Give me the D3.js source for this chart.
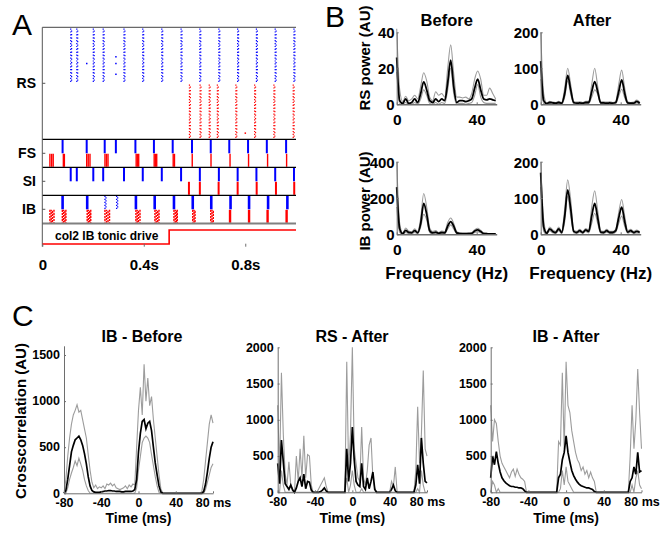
<!DOCTYPE html>
<html><head><meta charset="utf-8">
<script src="https://cdn.jsdelivr.net/npm/d3@7"></script>
<style>
body{margin:0;background:#fff}
svg{display:block}
text{font-family:"Liberation Sans",Arial,Helvetica,sans-serif;font-weight:bold;fill:#000}
</style>
</head><body>
<svg id="c" width="661" height="533"></svg>
<script>
// ================= DATA =================
// ---- Panel A: raster (spike times in s) ----
const rasterRows = ["RS", "FS", "SI", "IB"];
const timeTicks = [0, 0.4, 0.8];
const timeTickLabels = ["0", "0.4s", "0.8s"];
const rsBlueTimes = [0.112,0.136,0.201,0.240,0.322,0.396,0.471,0.547,0.621,0.696,0.770,0.844,0.918,0.992];
const rsBlueDots = [[0.175,13],[0.290,10.5],[0.290,13],[0.290,17]];
const rsRedTimes = [0.580,0.622,0.658,0.690,0.763,0.837,0.913,0.989];
const rsRedDots = [[0.800,18]];
const fsBlueTimes = [0.080,0.175,0.246,0.290,0.367,0.440,0.514,0.590,0.664,0.737,0.811,0.885,0.961];
const fsRedTimes = [0.030,0.037,0.043,0.083,0.087,0.175,0.181,0.188,0.247,0.253,0.259,0.370,0.375,0.380,0.441,0.446,0.451,0.516,0.521,0.591,0.665,0.740,0.813,0.888,0.963];
const siBlueTimes = [0.112,0.136,0.201,0.240,0.322,0.396,0.471,0.547,0.621,0.696,0.770,0.844,0.918,0.992];
const siRedTimes = [0.578,0.621,0.695,0.770,0.845,0.921,0.993];
const ibBlueTimes = [0.080,0.177,0.369,0.443,0.519,0.593,0.666,0.742,0.815,0.890,0.966];
const ibBlueSparse = [0.247,0.293];
const ibRedBursts = [
  [0.030,0.035,0.040,0.046],[0.079,0.084,0.089,0.093],[0.177,0.182,0.187,0.191],
  [0.247,0.253,0.259,0.265],[0.369,0.374,0.379,0.385],[0.444,0.449,0.455,0.460],
  [0.519,0.524,0.529,0.532],[0.593,0.598,0.602],[0.664,0.669,0.674]];
const ibRedTimes = [0.740,0.815,0.888,0.963];
const driveTimes = [0, 0.5, 1];
const driveLevels = [0, 1, 1];
const driveLabel = "col2 IB tonic drive";

// ---- Panel B: power spectra ----
const freqs = [0,1.5,3,4.5,6,7.5,9,10.5,12,13.5,15,16.5,18,19.5,21,22.5,24,25.5,27,28.5,30,31.5,33,34.5,36,37.5,39,40.5,42,43.5,45,46.5,48,49.5];
const rsBeforeMean = [26,2,0.5,3,0.5,1,3,1,6,12.5,8,2,1,3,1.5,3,2,12,24.5,10,1,2,2,1.5,2,3,9,14,8,3,2.5,3,2.5,2];
const rsBeforeUp   = [42,8,1.5,4.5,2,3,5,3,10,17.5,13,4,2,7,5,6,4,20,33,17,4,4,3.5,4,3,6,14,18.5,14,5,5,9,6,3];
const rsBeforeLo   = [18,0,0,1,0,0,1,0,3,8,5,0.5,0,1,0,1,0.5,8,20,6,0,0.5,0.5,0,0.5,1,5,11,4,1,0.5,0.5,0.5,0.5];
const rsAfterMean  = [120,10,2,5,4,3,5,3,30,80,40,5,3,4,3,5,5,35,63,35,4,4,3,4,3,5,35,68,30,4,3,3,8,3];
const rsAfterUp    = [200,30,4,8,6,5,8,5,45,100,55,8,6,7,5,8,8,55,100,50,7,7,6,7,5,8,55,95,45,7,5,6,12,6];
const rsAfterLo    = [70,2,0,2,1,1,2,1,20,65,28,2,1,2,1,2,2,20,40,28,2,2,1,2,1,2,22,42,18,2,1,1,4,1];
const ibBeforeMean = [260,30,3,22,10,8,20,8,60,170,110,20,8,12,5,10,8,45,70,45,8,4,3,3,4,5,18,24,15,4,3,2,2,2];
const ibBeforeUp   = [400,60,8,35,18,15,30,15,90,225,150,35,15,20,10,18,15,65,90,60,15,8,6,6,8,10,25,33,22,8,5,4,4,3];
const ibBeforeLo   = [150,10,0,10,4,3,10,3,40,110,80,10,3,5,2,4,3,30,52,30,3,1,1,1,1,2,10,15,8,1,1,1,1,1];
const ibAfterMean  = [170,20,3,15,8,5,15,5,50,122,70,8,5,10,5,12,8,50,85,45,6,5,10,5,5,10,45,75,35,6,10,5,8,5];
const ibAfterUp    = [200,40,6,20,12,8,20,8,70,150,95,12,8,14,8,16,12,75,120,65,10,8,14,8,8,14,60,96,50,10,14,8,12,7];
const ibAfterLo    = [130,8,0,10,4,2,10,2,35,105,50,4,2,6,2,8,4,30,58,30,3,2,6,2,2,6,30,50,22,3,6,2,4,3];
const freqTicks = [0, 40];

// ---- Panel C: crosscorrelations (lag in ms) ----
const lags = [-80,-78,-76,-74,-72,-70,-68,-66,-64,-62,-60,-58,-56,-54,-52,-50,-48,-46,-44,-42,-40,-38,-36,-34,-32,-30,-28,-26,-24,-22,-20,-18,-16,-14,-12,-10,-8,-6,-4,-2,0,2,4,6,8,10,12,14,16,18,20,22,24,26,28,30,32,34,36,38,40,42,44,46,48,50,52,54,56,58,60,62,64,66,68,70,72,74,76,78,80];
const lagTicks = [-80, -40, 0, 40, 80];
const lagTickLabels = ["-80", "-40", "0", "40", "80 ms"];
const ibBeforeXcMean = [0,30,150,300,450,520,580,600,620,580,520,430,320,180,80,30,15,10,10,10,15,20,25,25,30,30,25,25,20,20,20,15,15,20,20,20,20,25,40,150,450,650,780,800,700,760,780,680,500,330,200,80,15,0,0,0,0,0,0,0,0,0,0,0,0,0,0,0,0,0,0,0,0,0,0,20,100,230,380,500,560];
const ibBeforeXcUp = [0,150,400,600,750,850,900,960,880,900,800,700,600,420,250,120,60,90,50,70,60,80,50,100,90,110,80,100,60,50,40,50,60,80,50,90,70,100,90,500,900,1150,850,1400,1000,1250,950,1050,800,600,400,200,50,0,0,0,0,0,0,0,0,0,0,0,0,0,0,0,0,0,0,0,0,0,20,150,350,550,750,850,760];
const ibBeforeXcLo = [0,0,60,150,220,280,350,300,380,320,250,150,80,30,0,0,0,0,0,0,0,0,0,0,0,0,0,0,0,0,0,0,0,0,0,0,0,0,0,60,250,400,550,600,620,600,550,420,300,180,80,10,0,0,0,0,0,0,0,0,0,0,0,0,0,0,0,0,0,0,0,0,0,0,0,0,40,120,200,280,320];
const rsAfterXcMean = [400,120,720,420,120,80,40,100,30,0,60,150,200,80,250,50,150,140,30,0,0,0,0,10,30,60,20,0,0,0,0,0,0,0,0,0,0,600,150,400,900,450,150,100,80,400,80,40,200,50,150,280,40,0,0,0,0,0,0,0,0,40,100,20,0,0,0,0,0,0,0,0,0,0,100,380,120,750,400,150,130];
const rsAfterXcUp = [1200,300,1650,800,250,100,420,100,50,0,500,150,600,200,780,200,520,500,100,0,0,0,50,100,150,200,80,0,0,0,0,0,0,0,0,0,0,1800,300,800,2000,600,400,200,150,900,200,100,300,650,750,200,60,0,0,0,0,0,0,0,0,150,80,350,0,0,0,0,0,0,0,0,0,0,300,1180,400,800,1680,600,500];
const rsAfterXcLo = [0,0,300,100,0,0,0,0,0,0,0,0,0,0,0,0,0,0,0,0,0,0,0,0,0,0,0,0,0,0,0,0,0,0,0,0,0,200,0,100,300,100,0,0,0,50,0,0,0,0,0,0,0,0,0,0,0,0,0,0,0,0,0,0,0,0,0,0,0,0,0,0,0,0,0,50,0,300,100,0,0];
const ibAfterXcMean = [200,500,380,560,400,280,200,160,130,110,90,80,80,70,70,60,60,50,20,0,0,0,0,0,0,0,0,0,0,0,0,0,0,0,0,0,200,250,450,550,780,550,420,300,230,180,140,110,90,80,70,60,60,50,40,10,0,0,0,0,0,0,0,0,0,0,0,0,0,0,0,0,0,0,150,200,350,250,550,280,300];
const ibAfterXcUp = [1200,700,1000,950,700,500,400,350,300,250,200,280,320,220,320,250,200,180,150,0,0,0,0,0,0,0,0,0,0,0,0,0,0,0,0,0,700,650,1650,600,1800,1200,1100,850,700,550,450,400,300,350,250,300,200,280,200,150,0,0,0,0,0,0,0,0,0,0,0,0,0,0,0,0,0,0,500,1200,600,1000,1700,1100,600];
const ibAfterXcLo = [0,150,100,0,50,0,0,0,0,0,0,0,0,0,0,0,0,0,0,0,0,0,0,0,0,0,0,0,0,0,0,0,0,0,0,0,0,50,300,100,350,150,100,50,0,0,0,0,0,0,0,0,0,0,0,0,0,0,0,0,0,0,0,0,0,0,0,0,0,0,0,0,0,0,0,100,0,200,300,100,50];

// ================= DRAWING =================
const svg = d3.select("#c");
const FONT = '"Liberation Sans", Arial, Helvetica, sans-serif';
const AXC = "#6e6e6e", GRAY = "#9c9c9c";
const fmtInt = d3.format("d");

function styleAxis(g, fs) {
  g.attr("font-family", FONT).attr("font-size", fs).attr("font-weight", "bold");
  g.selectAll("path.domain").attr("stroke", AXC);
  g.selectAll(".tick line").attr("stroke", AXC);
  g.selectAll(".tick text").attr("fill", "#000").attr("font-weight", "bold");
}
function label(x, y, txt, fs, anchor, rot) {
  const t = svg.append("text").attr("font-size", fs).attr("font-weight", "bold")
    .attr("text-anchor", anchor || "middle").text(txt);
  if (rot) t.attr("transform", `translate(${x},${y}) rotate(${rot})`);
  else t.attr("x", x).attr("y", y);
  return t;
}

// ---------- Panel A ----------
const xA = d3.scaleLinear().domain([0, 1]).range([42.3, 296]);
const rowY = d3.scaleOrdinal().domain(rasterRows).range([83.3, 153.3, 181.3, 209.3]);
const yRSb = d3.scaleLinear().domain([0, 20]).range([28.5, 82.3]);
const yRSr = d3.scaleLinear().domain([0, 20]).range([84.5, 138.5]);
const yDrive = d3.scaleLinear().domain([0, 1]).range([244, 230]);
const gA = svg.append("g");

function columns(times, ys, color) {
  [[0, "1.2,1.7", 0], [0.9, "1.2,2.3", 1.5]].forEach(([dx, dash, off]) => {
    gA.append("g").selectAll("line").data(times).join("line")
      .attr("x1", d => xA(d) + dx).attr("x2", d => xA(d) + dx)
      .attr("y1", ys(0)).attr("y2", ys(20))
      .attr("stroke", color).attr("stroke-width", 1.2)
      .attr("stroke-dasharray", dash).attr("stroke-dashoffset", off);
  });
}
function dots(pts, ys, color) {
  gA.append("g").selectAll("rect").data(pts).join("rect")
    .attr("x", d => xA(d[0]) - 0.7).attr("y", d => ys(d[1]) - 0.7)
    .attr("width", 1.5).attr("height", 1.5).attr("fill", color);
}
columns(rsBlueTimes, yRSb, "#0000ff");
columns(rsRedTimes, yRSr, "#ff0000");
dots(rsBlueDots, yRSb, "#0000ff");
dots(rsRedDots, yRSr, "#ff0000");

function rowMarks(row, times, color, half, width, dash, offs) {
  const c = rowY(row);
  const y1 = half === 0 ? c - 13.5 : c + 0.5, y2 = half === 0 ? c : c + 13.5;
  gA.append("g").selectAll("line").data(times).join("line")
    .attr("x1", d => xA(d.t !== undefined ? d.t : d)).attr("x2", d => xA(d.t !== undefined ? d.t : d))
    .attr("y1", y1).attr("y2", y2)
    .attr("stroke", color).attr("stroke-width", width)
    .attr("stroke-dasharray", dash || null)
    .attr("stroke-dashoffset", d => (d.k !== undefined ? d.k * offs : 0));
}
rowMarks("FS", fsBlueTimes, "#0000ff", 0, 2);
rowMarks("FS", fsRedTimes, "#ff0000", 1, 1.4);
rowMarks("SI", siBlueTimes, "#0000ff", 0, 2);
rowMarks("SI", siRedTimes, "#ff0000", 1, 2);
rowMarks("IB", ibBlueTimes, "#0000ff", 0, 2.6);
rowMarks("IB", ibBlueSparse.flatMap(t => [{t: t, k: 0}, {t: t + 0.004, k: 1}]), "#0000ff", 0, 1.3, "1.3,1.7", 1.5);
rowMarks("IB", ibRedBursts.flatMap(b => b.map((t, k) => ({t: t, k: k}))), "#ff0000", 1, 1.4, "2.2,0.9", 1.1);
rowMarks("IB", ibRedTimes, "#ff0000", 1, 2.4);

// frame lines
gA.append("line").attr("x1", xA(0)).attr("x2", xA(1)).attr("y1", 27.3).attr("y2", 27.3).attr("stroke", "#444").attr("stroke-width", 1);
["FS", "SI", "IB"].forEach(r => {
  gA.append("line").attr("x1", xA(0)).attr("x2", xA(1)).attr("y1", rowY(r) - 14).attr("y2", rowY(r) - 14)
    .attr("stroke", "#000").attr("stroke-width", 1.2);
});
gA.append("line").attr("x1", xA(0)).attr("x2", xA(1)).attr("y1", rowY("IB") + 14.3).attr("y2", rowY("IB") + 14.3)
  .attr("stroke", "#808080").attr("stroke-width", 2);
gA.append("line").attr("x1", xA(0)).attr("x2", xA(0)).attr("y1", 27.3).attr("y2", 246.7).attr("stroke", "#555").attr("stroke-width", 1);
// row ticks & labels
gA.append("g").selectAll("line").data(rasterRows).join("line")
  .attr("x1", xA(0)).attr("x2", xA(0) + 3).attr("y1", d => rowY(d)).attr("y2", d => rowY(d)).attr("stroke", "#555");
gA.append("g").selectAll("text").data(rasterRows).join("text")
  .attr("x", 36).attr("y", d => rowY(d) + 5).attr("text-anchor", "end")
  .attr("font-size", 14).attr("font-weight", "bold").text(d => d);

// drive
gA.append("path").datum(driveTimes.map((t, i) => [t, driveLevels[i]]))
  .attr("d", d3.line().x(d => xA(d[0])).y(d => yDrive(d[1])).curve(d3.curveStepAfter))
  .attr("fill", "none").attr("stroke", "#ff0000").attr("stroke-width", 1.6);
gA.append("text").attr("x", 55).attr("y", 240).attr("font-size", 12).attr("font-weight", "bold").text(driveLabel);

// time axis
const axA = gA.append("g").attr("transform", "translate(0,246.7)")
  .call(d3.axisBottom(xA).tickValues(timeTicks).tickFormat((d, i) => timeTickLabels[i]).tickSize(-3).tickPadding(13).tickSizeOuter(0));
styleAxis(axA, 15);
axA.select("path.domain").remove();

// ---------- Panel B ----------
function specPanel(x0, yBase, yTopPx, ymax, yticks, up, lo, mean) {
  const x = d3.scaleLinear().domain([0, 50]).range([x0, x0 + 100]);
  const y = d3.scaleLinear().domain([0, ymax]).range([yBase, yTopPx]);
  const g = svg.append("g");
  const line = d3.line().x((d, i) => x(freqs[i])).y(d => y(d)).curve(d3.curveMonotoneX);
  [up, lo].forEach(s => g.append("path").datum(s).attr("d", line).attr("fill", "none").attr("stroke", GRAY).attr("stroke-width", 1.1));
  g.append("path").datum(mean).attr("d", line).attr("fill", "none").attr("stroke", "#000").attr("stroke-width", 1.8);
  const ax = g.append("g").attr("transform", `translate(0,${yBase})`)
    .call(d3.axisBottom(x).tickValues(freqTicks).tickFormat(fmtInt).tickSize(-2).tickPadding(10).tickSizeOuter(0));
  styleAxis(ax, 15.5);
  ax.select("path.domain").attr("stroke-width", 1.5);
  const ay = g.append("g").attr("transform", `translate(${x0},0)`)
    .call(d3.axisLeft(y).tickValues(yticks).tickFormat(fmtInt).tickSize(-2).tickPadding(2).tickSizeOuter(0));
  styleAxis(ay, 15);
  ay.selectAll(".tick text").attr("dy", "0.36em");
}
specPanel(396.7, 104.3, 32.3, 40, [0, 20, 40], rsBeforeUp, rsBeforeLo, rsBeforeMean);
specPanel(540.7, 104.3, 32.3, 200, [0, 100, 200], rsAfterUp, rsAfterLo, rsAfterMean);
specPanel(396.7, 234.3, 161.7, 400, [0, 200, 400], ibBeforeUp, ibBeforeLo, ibBeforeMean);
specPanel(540.7, 234.3, 161.7, 200, [0, 100, 200], ibAfterUp, ibAfterLo, ibAfterMean);
label(446.7, 26, "Before", 16.5);
label(592, 26, "After", 16.5);
label(446.7, 279, "Frequency (Hz)", 17);
label(590.7, 279, "Frequency (Hz)", 17);
label(369.5, 58, "RS power (AU)", 15, "middle", -90);
label(369.5, 201, "IB power (AU)", 15, "middle", -90);

// ---------- Panel C ----------
function xcPanel(x0, x1, yBase, yTop, ymax, yticks, up, lo, mean, title, titleX) {
  const x = d3.scaleLinear().domain([-80, 80]).range([x0, x1]);
  const y = d3.scaleLinear().domain([0, ymax]).range([yBase, yTop]);
  const g = svg.append("g");
  const line = d3.line().x((d, i) => x(lags[i])).y(d => y(d));
  [up, lo].forEach(s => g.append("path").datum(s).attr("d", line).attr("fill", "none").attr("stroke", GRAY).attr("stroke-width", 1.1));
  g.append("path").datum(mean).attr("d", line).attr("fill", "none").attr("stroke", "#000").attr("stroke-width", 1.7);
  const ax = g.append("g").attr("transform", `translate(0,${yBase})`)
    .call(d3.axisBottom(x).tickValues(lagTicks).tickFormat((d, i) => lagTickLabels[i]).tickSize(-2).tickPadding(4.5).tickSizeOuter(0));
  styleAxis(ax, 12.5);
  const ay = g.append("g").attr("transform", `translate(${x0},0)`)
    .call(d3.axisLeft(y).tickValues(yticks).tickFormat(fmtInt).tickSize(-2).tickPadding(4).tickSizeOuter(0));
  styleAxis(ay, 12.5);
  ay.selectAll(".tick text").attr("dy", "0.3em");
  label(titleX, 342, title, 16);
  label((x0 + x1) / 2, 522.5, "Time (ms)", 14);
}
xcPanel(64, 213, 493.3, 345.8, 1600, [0, 500, 1000, 1500], ibBeforeXcUp, ibBeforeXcLo, ibBeforeXcMean, "IB - Before", 142);
xcPanel(277.7, 427, 492.3, 347.3, 2000, [0, 500, 1000, 1500, 2000], rsAfterXcUp, rsAfterXcLo, rsAfterXcMean, "RS - After", 352);
xcPanel(490.7, 641.5, 492.3, 347.3, 2000, [0, 500, 1000, 1500, 2000], ibAfterXcUp, ibAfterXcLo, ibAfterXcMean, "IB - After", 566);
label(25.5, 421, "Crosscorrelation (AU)", 15, "middle", -90);

// ---------- Panel letters ----------
[["A", 12, 35], ["B", 325, 27], ["C", 12, 326]].forEach(([t, x, y]) => {
  svg.append("text").attr("x", x).attr("y", y).attr("font-size", 30)
    .style("font-weight", "normal").text(t);
});
</script>
</body></html>
